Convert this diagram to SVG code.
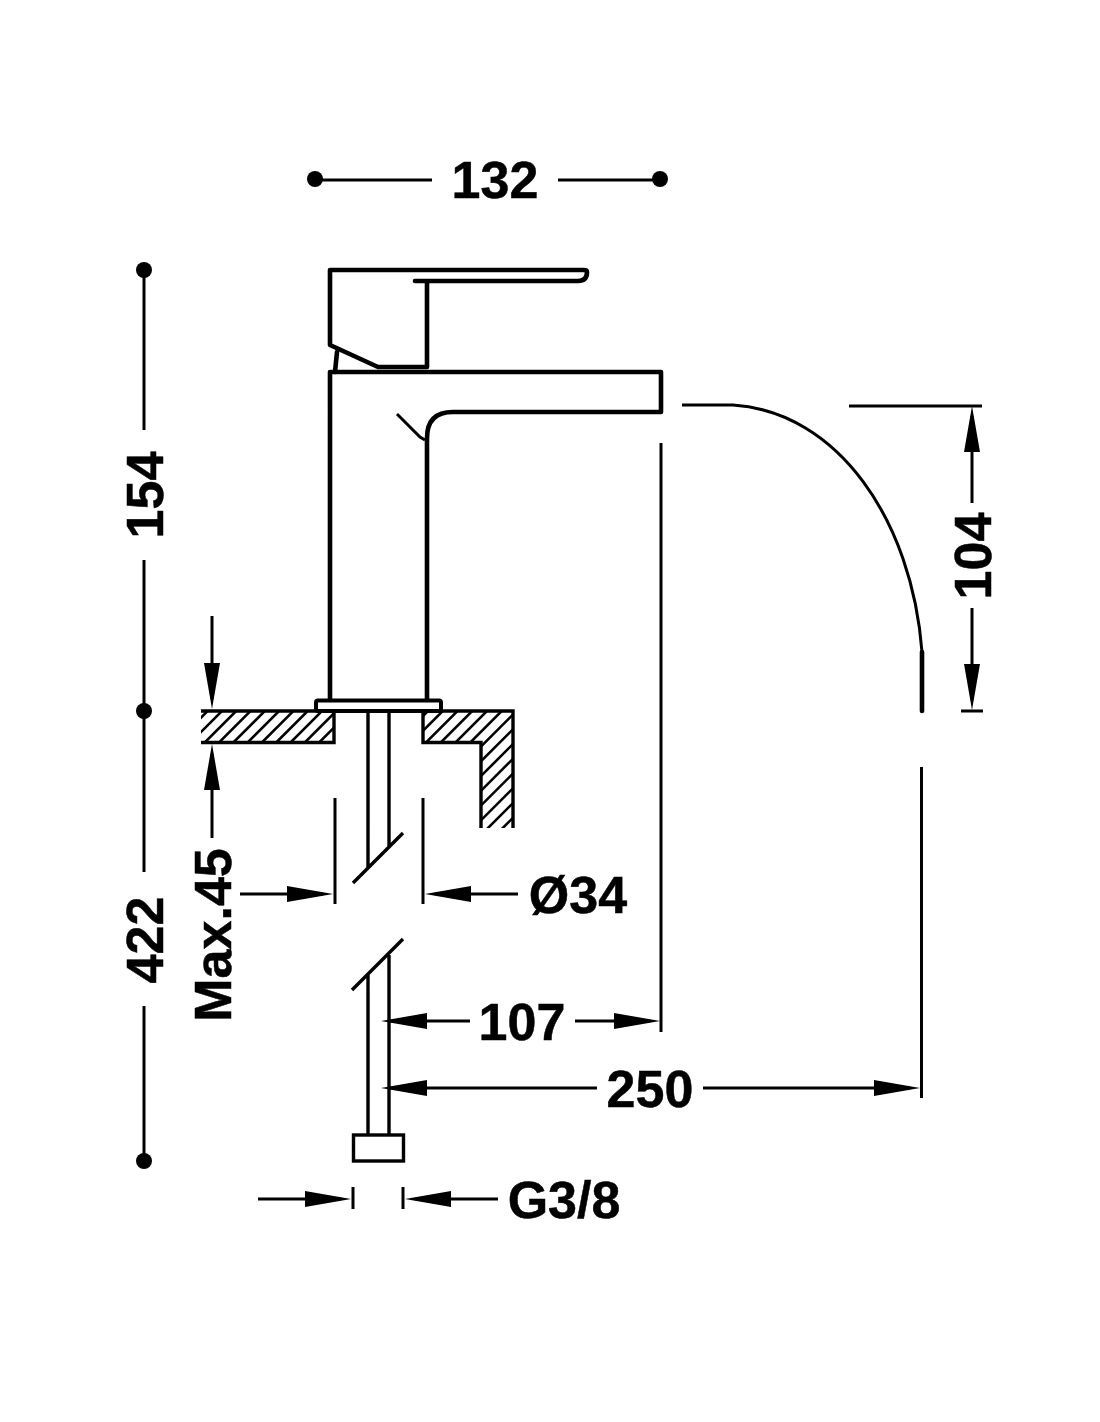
<svg xmlns="http://www.w3.org/2000/svg" width="1100" height="1422" viewBox="0 0 1100 1422">
<style>
.l{fill:none;stroke:#000;stroke-width:3.4}
.t{fill:none;stroke:#000;stroke-width:4.6;stroke-linejoin:round;stroke-linecap:round}
.d{fill:none;stroke:#000;stroke-width:3}
.a{marker-end:url(#ah)}
.h{stroke:#000;stroke-width:2.6}
text{font-family:"Liberation Sans",Arial,sans-serif;font-weight:700;font-size:52px;fill:#000;stroke:#000;stroke-width:.5;text-anchor:middle}
</style>
<defs>
<marker id="ah" markerUnits="userSpaceOnUse" markerWidth="50" markerHeight="20" refX="36" refY="8" orient="auto"><path d="M0 0L46 8L0 16Z" fill="#000"/></marker>
<clipPath id="wc"><path d="M201 711H513V828H481V742H423V711H334V742H201Z"/></clipPath>
</defs>
<rect width="1100" height="1422" fill="#fff"/>
<g id="wall">
<g clip-path="url(#wc)"><path class="h" d="M218.600 700L68.600 850M233 700L83 850M247.200 700L97.200 850M261.500 700L111.500 850M275.800 700L125.800 850M290.100 700L140.100 850M304.400 700L154.400 850M318.700 700L168.700 850M333 700L183 850M347.300 700L197.300 850M361.600 700L211.600 850M439 700L239 900M453.750 700L253.750 900M468.500 700L268.500 900M483.250 700L283.250 900M498 700L298 900M512.750 700L312.750 900M527.500 700L327.500 900M542.250 700L342.250 900M557 700L357 900M571.750 700L371.750 900M586.500 700L386.500 900M601.250 700L401.250 900M616 700L416 900M630.750 700L430.750 900"/></g>
<path class="l" d="M201 711H334V742.500H201M423 711V742.500H481V828M423 711H513V828"/>
</g>
<g id="faucet">
<path class="t" d="M415 281H578Q587 281 587 272Q587 270 584 270H330V345L378 367H427V281"/>
<path class="t" d="M337 352L335 372"/>
<path class="t" d="M330 700V372H661V412H453Q427 412 427 438V700"/>
<path class="d" d="M397 414L420 437L425 440"/>
<rect x="316" y="700.500" width="125" height="10.500" rx="2" fill="none" stroke="#000" stroke-width="4"/>
</g>
<g id="pipe">
<path class="l" d="M368 711V867M389 711V847M353 883L403 833M352 990L403 939M368 974V1135M389 955V1135"/>
<rect x="353.500" y="1135" width="50" height="26" fill="#fff" stroke="#000" stroke-width="3.400"/>
</g>
<g id="connectors">
<circle cx="315" cy="179" r="8"/><circle cx="660" cy="179" r="8"/>
<path class="d" d="M315 180H432M558 180H660"/>
<circle cx="144" cy="270" r="8"/><circle cx="144" cy="711" r="8"/><circle cx="144" cy="1161" r="8"/>
<path class="d" d="M144 270V430M144 560V711V872M144 1006V1161"/>
<path class="d" d="M682 405H733C838 412 912 520 922 652"/>
<path class="t" d="M922 652V711"/>
<path class="d" d="M921.500 767V1098M661 443V1032M849 406H982M961 711H983M335 798V904M423 798V904M353 1187V1209M403 1187V1209"/>
<path class="d a" d="M972 503V416"/>
<path class="d a" d="M972 608V700"/>
<path class="d a" d="M212 616V699"/>
<path class="d a" d="M212 838V754"/>
<path class="d a" d="M240 894H323"/>
<path class="d a" d="M518 894H435"/>
<path class="d a" d="M470 1021H391"/>
<path class="d a" d="M575 1021H650"/>
<path class="d a" d="M597 1088H391"/>
<path class="d a" d="M703 1088H910"/>
<path class="d a" d="M258 1199H341"/>
<path class="d a" d="M498 1199H415"/>
</g>
<g id="labels">
<text x="495" y="198">132</text>
<text transform="translate(163 495) rotate(-90)">154</text>
<text transform="translate(163 940) rotate(-90)">422</text>
<text transform="translate(231 935) rotate(-90)">Max.45</text>
<text transform="translate(991 556) rotate(-90)">104</text>
<text x="578" y="913">Ø34</text>
<text x="522" y="1040">107</text>
<text x="650" y="1107">250</text>
<text x="564" y="1218">G3/8</text>
</g>
</svg>
